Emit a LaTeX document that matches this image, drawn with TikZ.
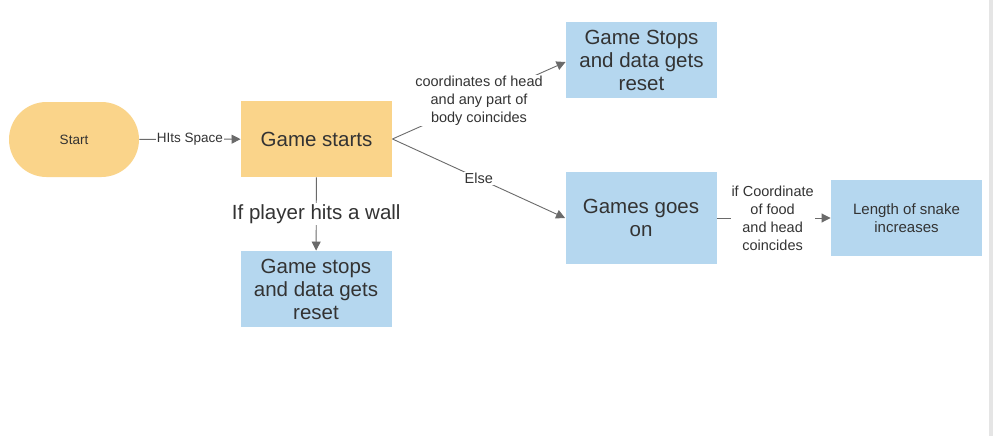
\documentclass[tikz,border=0pt]{standalone}
\usepackage{fontspec}
\setmainfont{Liberation Sans}
\usetikzlibrary{arrows.meta,shapes.misc}
\definecolor{startorange}{HTML}{FAD48A}
\definecolor{stepblue}{HTML}{B5D7EF}
\definecolor{linegray}{HTML}{6A6A6A}
\definecolor{textgray}{HTML}{333333}
\tikzset{
  every node/.style={text=textgray, align=center, inner sep=1pt},
  startbox/.style={rounded rectangle, fill=startorange, minimum width=132pt, minimum height=75pt, font=\fontsize{13.5}{16}\selectfont},
  orangebox/.style={rectangle, fill=startorange, minimum width=151pt, minimum height=76pt, font=\fontsize{20.5}{23}\selectfont},
  bluebox/.style={rectangle, fill=stepblue, minimum width=151pt, minimum height=76pt, font=\fontsize{20.5}{23}\selectfont},
  edgelabel/.style={fill=white, font=\fontsize{14.5}{18}\selectfont},
  every path/.style={line width=0.9pt}
}
\begin{document}
\begin{tikzpicture}[x=1pt,y=-1pt, >={Triangle[length=9pt,width=9pt]}]
            \useasboundingbox (0,0) rectangle (993,436);
            \fill[white] (0,0) rectangle (993,436);
            \fill[gray!20] (989,0) rectangle (993,436);

            \node[startbox] (start) at (74,139.5) {Start};
            \node[orangebox] (gamestarts) at (316.5,139) {Game starts};
            \node[bluebox] (stopstop) at (641.5,60) {Game Stops\\and data gets\\reset};
            \node[bluebox, minimum height=92pt] (goeson) at (641,218) {Games goes\\on};
            \node[bluebox, font=\fontsize{15}{18}\selectfont] (length) at (906.5,218) {Length of snake\\increases};
            \node[bluebox] (stopwall) at (316,289) {Game stops\\and data gets\\reset};

            \draw[->, linegray] (start) to node[edgelabel, font=\fontsize{13.5}{16}\selectfont] {HIts Space} (gamestarts);
            \draw[->, linegray] (gamestarts.east) to node[edgelabel, pos=0.5] {coordinates of head\\and any part of\\body coincides} (stopstop.west |- 0,62);
            \draw[->, linegray] (gamestarts.east) to node[edgelabel, pos=0.5] {Else} (goeson.west);
            \draw[->, linegray] (gamestarts) to node[edgelabel, font=\fontsize{20.5}{23}\selectfont] {If player hits a wall} (stopwall);
            \draw[->, linegray] (goeson) to node[edgelabel, pos=0.49] {if Coordinate\\of food\\and head\\coincides} (length);
        \end{tikzpicture}
\end{document}
